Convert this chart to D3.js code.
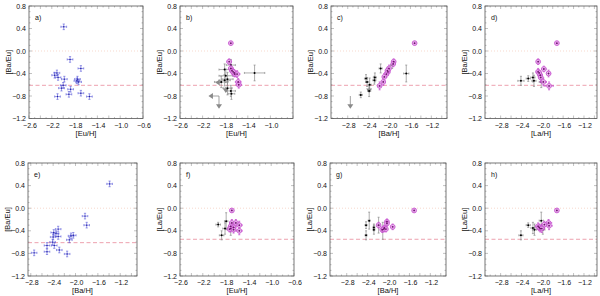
<!DOCTYPE html>
<html>
<head>
<meta charset="utf-8">
<script src="https://cdn.jsdelivr.net/npm/d3@7"></script>
<style>
  body { margin: 0; background: #fff; }
  svg text { font-family: "Liberation Sans", Arial, sans-serif; fill: #111; }
</style>
</head>
<body>
<svg id="chart" width="600" height="296"></svg>
<script>
// ---- data: [x, y, xerr, yerr] ----
// blue sample (panels a, e)
const blueEu = [[-1.99,0.43,0.05,0.05],[-1.88,-0.15,0.05,0.05],[-1.69,-0.31,0.05,0.05],
  [-2.11,-0.39,0.05,0.05],[-2.15,-0.43,0.05,0.05],[-2.09,-0.47,0.05,0.05],[-1.98,-0.50,0.05,0.05],
  [-1.75,-0.50,0.05,0.05],[-1.73,-0.55,0.05,0.05],[-1.76,-0.53,0.05,0.05],[-2.00,-0.61,0.05,0.05],
  [-2.03,-0.66,0.05,0.05],[-1.87,-0.68,0.05,0.05],[-1.69,-0.75,0.05,0.05],[-2.10,-0.81,0.05,0.05],
  [-1.90,-0.77,0.05,0.05],[-1.54,-0.81,0.05,0.05]];
const blueBa = [[-1.39,0.43,0.05,0.05],[-1.83,-0.14,0.05,0.05],[-1.80,-0.30,0.05,0.05],
  [-2.31,-0.37,0.05,0.05],[-2.39,-0.43,0.05,0.05],[-2.35,-0.45,0.05,0.05],[-2.31,-0.50,0.05,0.05],
  [-2.40,-0.51,0.05,0.05],[-2.08,-0.49,0.05,0.05],[-2.04,-0.48,0.05,0.05],[-2.11,-0.56,0.05,0.05],
  [-2.41,-0.60,0.05,0.05],[-2.51,-0.66,0.05,0.05],[-2.38,-0.66,0.05,0.05],[-2.51,-0.77,0.05,0.05],
  [-2.29,-0.74,0.05,0.05],[-2.15,-0.81,0.05,0.05],[-2.74,-0.79,0.05,0.05]];

// black sample (gray error bars)
const blackB = [[-1.28,-0.39,0.18,0.14],[-1.70,-0.25,0.08,0.10],[-1.81,-0.33,0.10,0.10],
  [-1.79,-0.44,0.12,0.12],[-1.76,-0.50,0.10,0.12],[-1.81,-0.52,0.10,0.10],[-1.87,-0.55,0.12,0.10],
  [-1.76,-0.66,0.08,0.12],[-1.70,-0.71,0.08,0.10],[-1.69,-0.76,0.06,0.10]];
const blackC = [[-1.68,-0.40,0.05,0.15],[-2.17,-0.31,0.03,0.08],[-1.95,-0.25,0.03,0.06],
  [-2.28,-0.47,0.03,0.08],[-2.29,-0.52,0.03,0.07],[-2.45,-0.49,0.03,0.07],[-2.43,-0.55,0.03,0.08],
  [-2.38,-0.60,0.03,0.12],[-2.39,-0.71,0.03,0.10],[-2.55,-0.78,0.03,0.05]];
const blackD = [[-2.41,-0.53,0.06,0.08],[-2.27,-0.49,0.04,0.05],[-2.18,-0.47,0.04,0.08],
  [-2.16,-0.53,0.04,0.10],[-2.02,-0.55,0.04,0.10]];
const blackF = [[-1.93,-0.29,0.04,0.04],[-1.79,-0.23,0.03,0.15],[-1.81,-0.36,0.04,0.10],
  [-1.87,-0.48,0.04,0.08],[-1.71,-0.38,0.03,0.10]];
const blackG = [[-2.43,-0.30,0.02,0.06],[-2.37,-0.22,0.02,0.15],[-2.28,-0.38,0.02,0.08],
  [-2.28,-0.34,0.02,0.06],[-2.43,-0.48,0.02,0.08],[-2.19,-0.30,0.02,0.14],[-2.11,-0.40,0.02,0.15]];
const blackH = [[-2.41,-0.48,0.04,0.08],[-2.27,-0.30,0.04,0.04],[-2.18,-0.35,0.04,0.10],
  [-2.15,-0.38,0.04,0.10],[-2.02,-0.22,0.04,0.15],[-1.99,-0.38,0.04,0.08]];

// magenta sample (circled points)
const magB = [[-1.70,0.14,0.03,0.03],[-1.73,-0.19,0.04,0.05],[-1.70,-0.31,0.04,0.06],
  [-1.68,-0.35,0.04,0.06],[-1.64,-0.39,0.05,0.06],[-1.63,-0.41,0.04,0.05],[-1.59,-0.41,0.05,0.06],
  [-1.66,-0.37,0.04,0.05],[-1.57,-0.55,0.05,0.06],[-1.56,-0.60,0.05,0.06]];
const magC = [[-1.52,0.14,0.03,0.03],[-1.92,-0.19,0.03,0.05],[-1.93,-0.23,0.03,0.05],
  [-2.01,-0.31,0.03,0.06],[-2.03,-0.37,0.03,0.06],[-2.06,-0.41,0.03,0.06],[-2.04,-0.35,0.03,0.05],
  [-2.10,-0.46,0.03,0.06],[-2.12,-0.55,0.03,0.06],[-2.19,-0.62,0.03,0.07]];
const magD = [[-1.72,0.14,0.03,0.03],[-2.08,-0.19,0.03,0.05],[-2.08,-0.37,0.04,0.06],
  [-2.04,-0.43,0.04,0.06],[-2.03,-0.47,0.04,0.07],[-1.97,-0.32,0.04,0.05],[-1.88,-0.40,0.04,0.06],
  [-1.98,-0.55,0.06,0.07],[-1.87,-0.62,0.08,0.07],[-2.06,-0.39,0.04,0.05]];
const magF = [[-1.69,-0.04,0.03,0.03],[-1.69,-0.26,0.04,0.06],[-1.71,-0.32,0.04,0.07],
  [-1.66,-0.34,0.04,0.06],[-1.62,-0.26,0.04,0.06],[-1.56,-0.30,0.05,0.07],[-1.71,-0.36,0.04,0.06],
  [-1.66,-0.38,0.04,0.06],[-1.56,-0.40,0.05,0.07],[-1.73,-0.37,0.04,0.05]];
const magG = [[-1.51,-0.04,0.03,0.03],[-2.03,-0.24,0.03,0.05],[-2.03,-0.27,0.03,0.05],
  [-1.92,-0.33,0.03,0.05],[-2.19,-0.30,0.03,0.05],[-2.08,-0.35,0.03,0.05],[-2.12,-0.38,0.03,0.05],
  [-2.09,-0.37,0.03,0.05],[-2.05,-0.37,0.03,0.05]];
const magH = [[-1.72,-0.04,0.03,0.03],[-2.08,-0.32,0.05,0.06],[-2.04,-0.36,0.05,0.06],
  [-2.06,-0.34,0.04,0.06],[-1.96,-0.29,0.05,0.06],[-1.88,-0.26,0.06,0.06],[-1.87,-0.31,0.06,0.07],
  [-2.01,-0.36,0.05,0.07]];

// upper limits: [x, y, dx, dy] arrow from (x,y) to (x+dx,y+dy)
const limB = [[-1.91,-0.80,-0.16,0],[-1.91,-0.80,0,-0.20],[-1.85,-0.56,-0.10,0],[-1.79,-0.64,0,-0.08]];
const limC = [[-2.39,-0.60,0,-0.12],[-2.75,-0.80,0,-0.20]];

const yTicks = [0.8, 0.4, 0.0, -0.4, -0.8, -1.2];
const xTicksEu = [-2.6, -2.2, -1.8, -1.4, -1.0, -0.6];
const xTicksEuB = [-2.6, -2.2, -1.8, -1.4, -1.0];
const xTicksH = [-2.8, -2.4, -2.0, -1.6, -1.2];
const baEuSolar = -0.61, laEuSolar = -0.55;

// ---- layout ----
const rowsY = [[6, 118.5], [163, 276]];
const panels = [
  {lab:"a)", row:0, px:[29,143], dom:[-2.6,-0.6], xt:xTicksEu, xl:"[Eu/H]", yl:"[Ba/Eu]", ref:baEuSolar, blue:blueEu},
  {lab:"b)", row:0, px:[180,293], dom:[-2.6,-0.6], xt:xTicksEuB, xl:"[Eu/H]", yl:"[Ba/Eu]", ref:baEuSolar, black:blackB, mag:magB, lim:limB},
  {lab:"c)", row:0, px:[331,447], dom:[-3.12,-0.9], xt:xTicksH, xl:"[Ba/H]", yl:"[Ba/Eu]", ref:baEuSolar, black:blackC, mag:magC, lim:limC},
  {lab:"d)", row:0, px:[485,597], dom:[-3.1,-0.95], xt:xTicksH, xl:"[La/H]", yl:"[Ba/Eu]", ref:baEuSolar, black:blackD, mag:magD},
  {lab:"e)", row:1, px:[28,137], dom:[-2.85,-0.9], xt:xTicksH, xl:"[Ba/H]", yl:"[Ba/Eu]", ref:baEuSolar, blue:blueBa},
  {lab:"f)", row:1, px:[180,294], dom:[-2.6,-0.6], xt:xTicksEu, xl:"[Eu/H]", yl:"[La/Eu]", ref:laEuSolar, black:blackF, mag:magF},
  {lab:"g)", row:1, px:[330,446], dom:[-3.12,-0.9], xt:xTicksH, xl:"[Ba/H]", yl:"[La/Eu]", ref:laEuSolar, black:blackG, mag:magG},
  {lab:"h)", row:1, px:[485,597], dom:[-3.1,-0.95], xt:xTicksH, xl:"[La/H]", yl:"[La/Eu]", ref:laEuSolar, black:blackH, mag:magH}
];

const svg = d3.select("#chart");
const fmt = d => d.toFixed(1).replace("-", "\u2212");

function errBars(g, data, x, y, color, cap, sw) {
  const e = g.append("g").attr("stroke", color).attr("stroke-width", sw).attr("fill", "none");
  data.forEach(d => {
    const cx = x(d[0]), cy = y(d[1]);
    const x0 = x(d[0] - d[2]), x1 = x(d[0] + d[2]);
    const y0 = y(d[1] - d[3]), y1 = y(d[1] + d[3]);
    e.append("line").attr("x1", x0).attr("x2", x1).attr("y1", cy).attr("y2", cy);
    e.append("line").attr("x1", cx).attr("x2", cx).attr("y1", y0).attr("y2", y1);
    [x0, x1].forEach(xx => e.append("line").attr("x1", xx).attr("x2", xx).attr("y1", cy - cap).attr("y2", cy + cap));
    [y0, y1].forEach(yy => e.append("line").attr("x1", cx - cap).attr("x2", cx + cap).attr("y1", yy).attr("y2", yy));
  });
}

panels.forEach(p => {
  const [top, bot] = rowsY[p.row];
  const x = d3.scaleLinear().domain(p.dom).range(p.px);
  const y = d3.scaleLinear().domain([-1.2, 0.8]).range([bot, top]);
  const g = svg.append("g");

  // reference lines
  g.append("line").attr("x1", p.px[0]).attr("x2", p.px[1]).attr("y1", y(0)).attr("y2", y(0))
    .attr("stroke", "#f4c8b8").attr("stroke-width", 0.7).attr("stroke-dasharray", "1,2");
  g.append("line").attr("x1", p.px[0]).attr("x2", p.px[1]).attr("y1", y(p.ref)).attr("y2", y(p.ref))
    .attr("stroke", "#e88a9a").attr("stroke-width", 0.8).attr("stroke-dasharray", "4,2.5");

  // box + ticks (all four sides, inward)
  const tk = g.append("g").attr("stroke", "#999").attr("stroke-width", 0.6);
  const xMinor = d3.range(Math.ceil(p.dom[0] * 10), Math.floor(p.dom[1] * 10) + 1).map(v => v / 10);
  xMinor.forEach(v => {
    const major = xTicksEu.concat(xTicksH).some(t => Math.abs(t - v) < 1e-6);
    const L = major ? 3 : 1.5;
    tk.append("line").attr("x1", x(v)).attr("x2", x(v)).attr("y1", bot).attr("y2", bot - L);
    tk.append("line").attr("x1", x(v)).attr("x2", x(v)).attr("y1", top).attr("y2", top + L);
  });
  d3.range(-12, 9).map(v => v / 10).forEach(v => {
    const major = yTicks.some(t => Math.abs(t - v) < 1e-6);
    const L = major ? 3 : 1.5;
    tk.append("line").attr("x1", p.px[0]).attr("x2", p.px[0] + L).attr("y1", y(v)).attr("y2", y(v));
    tk.append("line").attr("x1", p.px[1]).attr("x2", p.px[1] - L).attr("y1", y(v)).attr("y2", y(v));
  });
  g.append("rect").attr("x", p.px[0]).attr("y", top).attr("width", p.px[1] - p.px[0]).attr("height", bot - top)
    .attr("fill", "none").attr("stroke", "#555").attr("stroke-width", 0.8);

  // tick labels
  g.selectAll(".xl").data(p.xt).join("text").attr("x", d => x(d) + 1).attr("y", bot + 9)
    .attr("text-anchor", "middle").attr("font-size", 7).text(fmt);
  g.selectAll(".yl").data(yTicks).join("text").attr("x", p.px[0] - 3).attr("y", d => y(d) + 2.5)
    .attr("text-anchor", "end").attr("font-size", 7).text(fmt);
  g.append("text").attr("x", (p.px[0] + p.px[1]) / 2).attr("y", bot + 17).attr("text-anchor", "middle")
    .attr("font-size", 7.5).text(p.xl);
  g.append("text").attr("transform", `translate(${p.px[0] - 18},${(top + bot) / 2}) rotate(-90)`)
    .attr("text-anchor", "middle").attr("font-size", 7.5).text(p.yl);
  g.append("text").attr("x", p.px[0] + 6).attr("y", top + 14).attr("font-size", 7).text(p.lab);

  // data
  if (p.blue) {
    errBars(g, p.blue, x, y, "#5858d8", 1.1, 0.6);
    g.selectAll(".b").data(p.blue).join("circle").attr("cx", d => x(d[0])).attr("cy", d => y(d[1]))
      .attr("r", 0.7).attr("fill", "#2020a0");
  }
  if (p.lim) {
    const lg = g.append("g");
    p.lim.forEach(d => {
      const x0 = x(d[0]), y0 = y(d[1]), x1 = x(d[0] + d[2]), y1 = y(d[1] + d[3]);
      lg.append("line").attr("x1", x0).attr("y1", y0).attr("x2", x1).attr("y2", y1)
        .attr("stroke", "#8a8a8a").attr("stroke-width", 0.8);
      const s = 3;
      const pts = d[3] !== 0
        ? [[x1 - s, y1 - s], [x1 + s, y1 - s], [x1, y1 + 1.5]]
        : [[x1 + s, y1 - s], [x1 + s, y1 + s], [x1 - 1.5, y1]];
      lg.append("polygon").attr("points", pts.map(q => q.join(",")).join(" ")).attr("fill", "#8a8a8a");
    });
  }
  if (p.black) {
    errBars(g, p.black, x, y, "#8a8a8a", 1, 0.7);
    g.selectAll(".k").data(p.black).join("circle").attr("cx", d => x(d[0])).attr("cy", d => y(d[1]))
      .attr("r", 1).attr("fill", "#000");
  }
  if (p.mag) {
    errBars(g, p.mag, x, y, "#c040c8", 1, 0.7);
    g.selectAll(".m").data(p.mag).join("circle").attr("cx", d => x(d[0])).attr("cy", d => y(d[1]))
      .attr("r", 2.4).attr("fill", "#eab8ee").attr("fill-opacity", 0.7)
      .attr("stroke", "#c858d0").attr("stroke-width", 0.9);
    g.selectAll(".md").data(p.mag).join("circle").attr("cx", d => x(d[0])).attr("cy", d => y(d[1]))
      .attr("r", 0.9).attr("fill", "#701070");
  }
});
</script>
</body>
</html>
